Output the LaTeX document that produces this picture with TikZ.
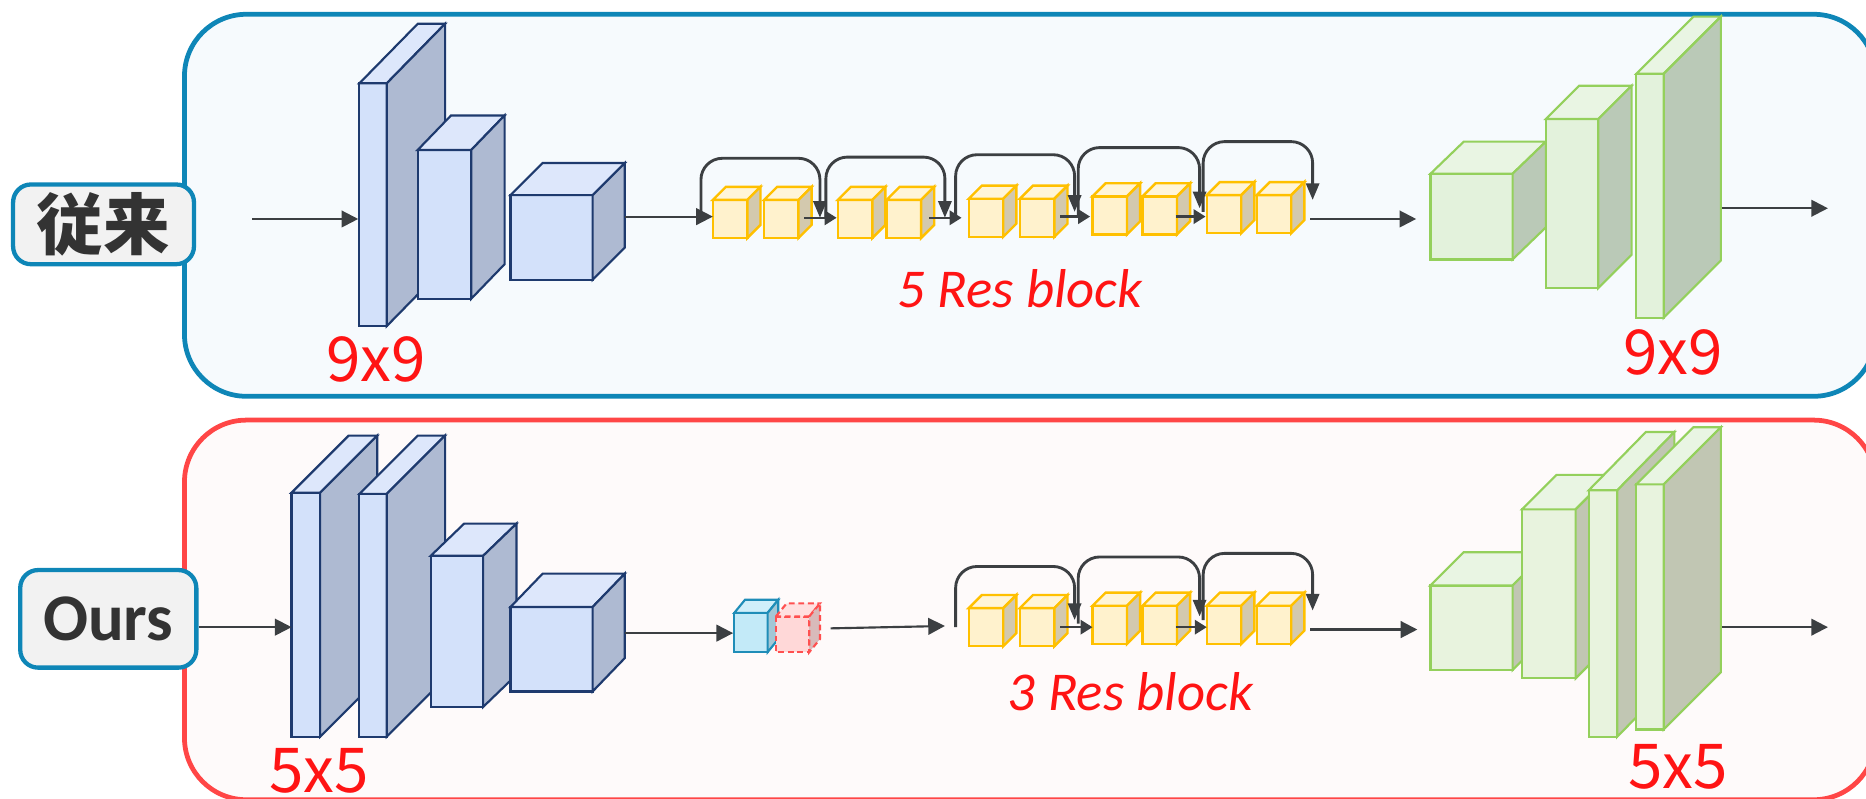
\documentclass[tikz,border=0pt]{standalone}
\usepackage{fontspec}
\usetikzlibrary{arrows.meta}
\newfontfamily\cjkfont{Noto Sans CJK JP}
\newfontfamily\calfont{Carlito}
\newfontfamily\numfont{Noto Sans CJK JP}

\definecolor{arrowgray}{HTML}{3C3F42}
\definecolor{labelred}{HTML}{FF1414}
\definecolor{panelAline}{HTML}{0E86B7}
\definecolor{panelAfill}{HTML}{F6FAFD}
\definecolor{panelBline}{HTML}{FF4646}
\definecolor{panelBfill}{HTML}{FEFAFA}
\definecolor{tagfill}{HTML}{F2F2F2}
\definecolor{tagtext}{HTML}{333333}
% encoder blocks
\definecolor{encF}{HTML}{D3E1FA}
\definecolor{encT}{HTML}{DDE7FB}
\definecolor{encS}{HTML}{AEBAD2}
\definecolor{encL}{HTML}{1E3A6E}
% residual blocks
\definecolor{resF}{HTML}{FFF2CD}
\definecolor{resT}{HTML}{FFF5D8}
\definecolor{resS}{HTML}{D3C9AE}
\definecolor{resL}{HTML}{FFC000}
% decoder blocks
\definecolor{decF}{HTML}{E3F2DC}
\definecolor{decT}{HTML}{E9F5E3}
\definecolor{decS}{HTML}{BAC9B7}
\definecolor{decL}{HTML}{94D05C}
\definecolor{decbF}{HTML}{E8F3DE}
\definecolor{decbS}{HTML}{C1C6B3}
% bottleneck
\definecolor{qzF}{HTML}{C3EAF8}
\definecolor{qzT}{HTML}{D0EFFA}
\definecolor{qzS}{HTML}{A3C7D5}
\definecolor{qzL}{HTML}{1F8DB8}
\definecolor{qdF}{HTML}{FFD8D8}
\definecolor{qdT}{HTML}{FFE0E0}
\definecolor{qdS}{HTML}{D8BABA}
\definecolor{qdL}{HTML}{FF5050}

% #1 style family, (#2,#3) top-left of front face, #4 width, #5 height,
% #6 depth shift to the right, #7 depth rise
\newcommand{\cuboid}[7]{%
  \filldraw[#1 front] (#2,#3) rectangle ++(#4,#5);
  \filldraw[#1 top] (#2,#3) -- ++(#6,-#7) -- ++(#4,0) -- ++(-#6,#7) -- cycle;
  \filldraw[#1 side] (#2+#4,#3) -- ++(#6,-#7) -- ++(0,#5) -- ++(-#6,#7) -- cycle;
}
\newcommand{\rescube}[2]{\cuboid{res}{#1}{#2}{29}{32}{11}{11}}

\tikzset{
  enc front/.style={fill=encF, draw=encL, line width=0.9pt},
  enc top/.style={fill=encT, draw=encL, line width=0.9pt},
  enc side/.style={fill=encS, draw=encL, line width=0.9pt},
  res front/.style={fill=resF, draw=resL, line width=1pt},
  res top/.style={fill=resT, draw=resL, line width=1pt},
  res side/.style={fill=resS, draw=resL, line width=1pt},
  dec front/.style={fill=decF, draw=decL, line width=0.9pt},
  dec top/.style={fill=decT, draw=decL, line width=0.9pt},
  dec side/.style={fill=decS, draw=decL, line width=0.9pt},
  decb front/.style={fill=decbF, draw=decL, line width=0.9pt},
  decb top/.style={fill=decT, draw=decL, line width=0.9pt},
  decb side/.style={fill=decbS, draw=decL, line width=0.9pt},
  qz front/.style={fill=qzF, draw=qzL, line width=0.9pt},
  qz top/.style={fill=qzT, draw=qzL, line width=0.9pt},
  qz side/.style={fill=qzS, draw=qzL, line width=0.9pt},
  qd front/.style={fill=qdF, draw=qdL, line width=0.9pt, dash pattern=on 2.5pt off 1.5pt},
  qd top/.style={fill=qdT, draw=qdL, line width=0.9pt, dash pattern=on 2.5pt off 1.5pt},
  qd side/.style={fill=qdS, draw=qdL, line width=0.9pt, dash pattern=on 2.5pt off 1.5pt},
  arr/.style={draw=arrowgray, line width=0.9pt, -{Triangle[length=7pt,width=7pt]}},
  shortarr/.style={draw=arrowgray, line width=1pt, -{Triangle[length=5pt,width=6pt]}},
  skiparr/.style={draw=arrowgray, line width=1.2pt, rounded corners=9pt,
    -{Triangle[length=7pt,width=5.5pt]}},
  tag/.style={draw=panelAline, line width=1.8pt, fill=tagfill, rounded corners=7.5pt,
    text=tagtext, inner sep=0pt},
  size/.style={text=labelred, inner sep=0pt, font=\numfont\fontsize{26pt}{26pt}\selectfont},
  note/.style={text=labelred, inner sep=0pt, font=\calfont\itshape\fontsize{23pt}{23pt}\selectfont},
}

\begin{document}
\begin{tikzpicture}[x=0.5pt, y=-0.5pt]
\clip (0,0) rectangle (1568,671);

% ---------------- panels ----------------
\draw[draw=panelAline, fill=panelAfill, line width=2pt, rounded corners=26pt]
  (155,12) rectangle (1576,333);
\draw[draw=panelBline, fill=panelBfill, line width=2pt, rounded corners=26pt]
  (155,353) rectangle (1576,672);

% ---------------- side tags ----------------
\node[tag, minimum width=76pt, minimum height=33.5pt,
      font=\cjkfont\bfseries\fontsize{28pt}{28pt}\selectfont] (old) at (87,188.5) {従来};
\node[tag, minimum width=74pt, minimum height=41pt,
      font=\calfont\bfseries\fontsize{28pt}{28pt}\selectfont] (ours) at (91,520) {Ours};

% ================= conventional network =================
% encoder
\cuboid{enc}{302}{70}{23}{204}{49}{50}
\cuboid{enc}{351}{126}{45}{125}{28}{29}
\cuboid{enc}{429}{164}{69}{71}{27}{27}
% residual blocks
\rescube{599}{168}\rescube{642}{168}
\rescube{704}{168}\rescube{745}{168}
\rescube{814}{167}\rescube{857}{167}
\rescube{918}{165}\rescube{960}{165}
\rescube{1014}{164}\rescube{1056}{164}
% decoder
\cuboid{dec}{1202}{146}{69}{72}{28}{27}
\cuboid{dec}{1299}{100}{44}{142}{28}{28}
\cuboid{dec}{1375}{62}{23}{205}{48}{48}

% connection points
\coordinate (a0) at (212,184);   \coordinate (a1) at (301,184);
\coordinate (b0) at (525,182);   \coordinate (b1) at (599,182);
\coordinate (p1o) at (676,183);  \coordinate (p2i) at (703,183);
\coordinate (p2o) at (781,183);  \coordinate (p3i) at (808,183);
\coordinate (p3o) at (891,182);  \coordinate (p4i) at (916,182);
\coordinate (p4o) at (988,182);  \coordinate (p5i) at (1013,182);
\coordinate (c0) at (1101,184);  \coordinate (c1) at (1190,184);
\coordinate (d0) at (1447,175);  \coordinate (d1) at (1536,175);

\draw[arr] (a0) -- (a1);
\draw[arr] (b0) -- (b1);
\draw[shortarr] (p1o) -- (p2i);
\draw[shortarr] (p2o) -- (p3i);
\draw[shortarr] (p3o) -- (p4i);
\draw[shortarr] (p4o) -- (p5i);
\draw[arr] (c0) -- (c1);
\draw[arr] (d0) -- (d1);

% skip connections
\coordinate (s1) at (589,183); \coordinate (e1) at (689,183); \coordinate (t1) at (0,133);
\coordinate (s2) at (694,183); \coordinate (e2) at (794,183); \coordinate (t2) at (0,132);
\coordinate (s3) at (803,183); \coordinate (e3) at (903,178); \coordinate (t3) at (0,130);
\coordinate (s4) at (906,181); \coordinate (e4) at (1008,175); \coordinate (t4) at (0,124);
\coordinate (s5) at (1011,178); \coordinate (e5) at (1103,168); \coordinate (t5) at (0,119);
\foreach \i in {1,...,5}{
  \draw[skiparr] (s\i) -- (s\i |- t\i) -- (e\i |- t\i) -- (e\i);
}

\node[size] (k9a) at (316,302) {9x9};
\node[size] (k9b) at (1406,296) {9x9};
\node[note] (r5) at (857,243) {5 Res block};

% ================= proposed network =================
% encoder
\cuboid{enc}{245}{414}{24}{205}{48}{48}
\cuboid{enc}{302}{415}{23}{204}{49}{49}
\cuboid{enc}{362}{467}{44}{127}{28}{27}
\cuboid{enc}{429}{510}{69}{71}{27}{28}
% bottleneck code and its dropped part
\cuboid{qz}{617}{515}{28}{33}{9}{11}
\cuboid{qd}{652}{518}{28}{30}{9}{11}
% residual blocks
\rescube{814}{511}\rescube{857}{511}
\rescube{918}{509}\rescube{960}{509}
\rescube{1014}{509}\rescube{1056}{509}
% decoder
\cuboid{decb}{1202}{492}{69}{71}{28}{28}
\cuboid{decb}{1279}{428}{45}{142}{29}{29}
\cuboid{decb}{1335}{412}{24}{207}{48}{49}
\cuboid{decb}{1375}{407}{23}{206}{48}{48}

\coordinate (f1) at (245,527);
\coordinate (g0) at (525,532);   \coordinate (g1) at (616,532);
\coordinate (h0) at (698,528);   \coordinate (h1) at (794,526);
\coordinate (q1o) at (891,527);  \coordinate (q2i) at (918,527);
\coordinate (q2o) at (988,527);  \coordinate (q3i) at (1014,527);
\coordinate (m0) at (1101,529);  \coordinate (m1) at (1191,529);
\coordinate (n0) at (1447,527);  \coordinate (n1) at (1536,527);

\draw[arr] (ours.east |- f1) -- (f1);
\draw[arr] (g0) -- (g1);
\draw[arr] (h0) -- (h1);
\draw[shortarr] (q1o) -- (q2i);
\draw[shortarr] (q2o) -- (q3i);
\draw[arr] (m0) -- (m1);
\draw[arr] (n0) -- (n1);

\coordinate (u1) at (803,527);  \coordinate (v1) at (903,521);  \coordinate (w1) at (0,476);
\coordinate (u2) at (906,524);  \coordinate (v2) at (1008,518); \coordinate (w2) at (0,468);
\coordinate (u3) at (1011,521); \coordinate (v3) at (1103,513); \coordinate (w3) at (0,465);
\foreach \i in {1,2,3}{
  \draw[skiparr] (u\i) -- (u\i |- w\i) -- (v\i |- w\i) -- (v\i);
}

\node[size] (k5a) at (268,648) {5x5};
\node[size] (k5b) at (1410,644) {5x5};
\node[note] (r3) at (950,581) {3 Res block};
\end{tikzpicture}
\end{document}
